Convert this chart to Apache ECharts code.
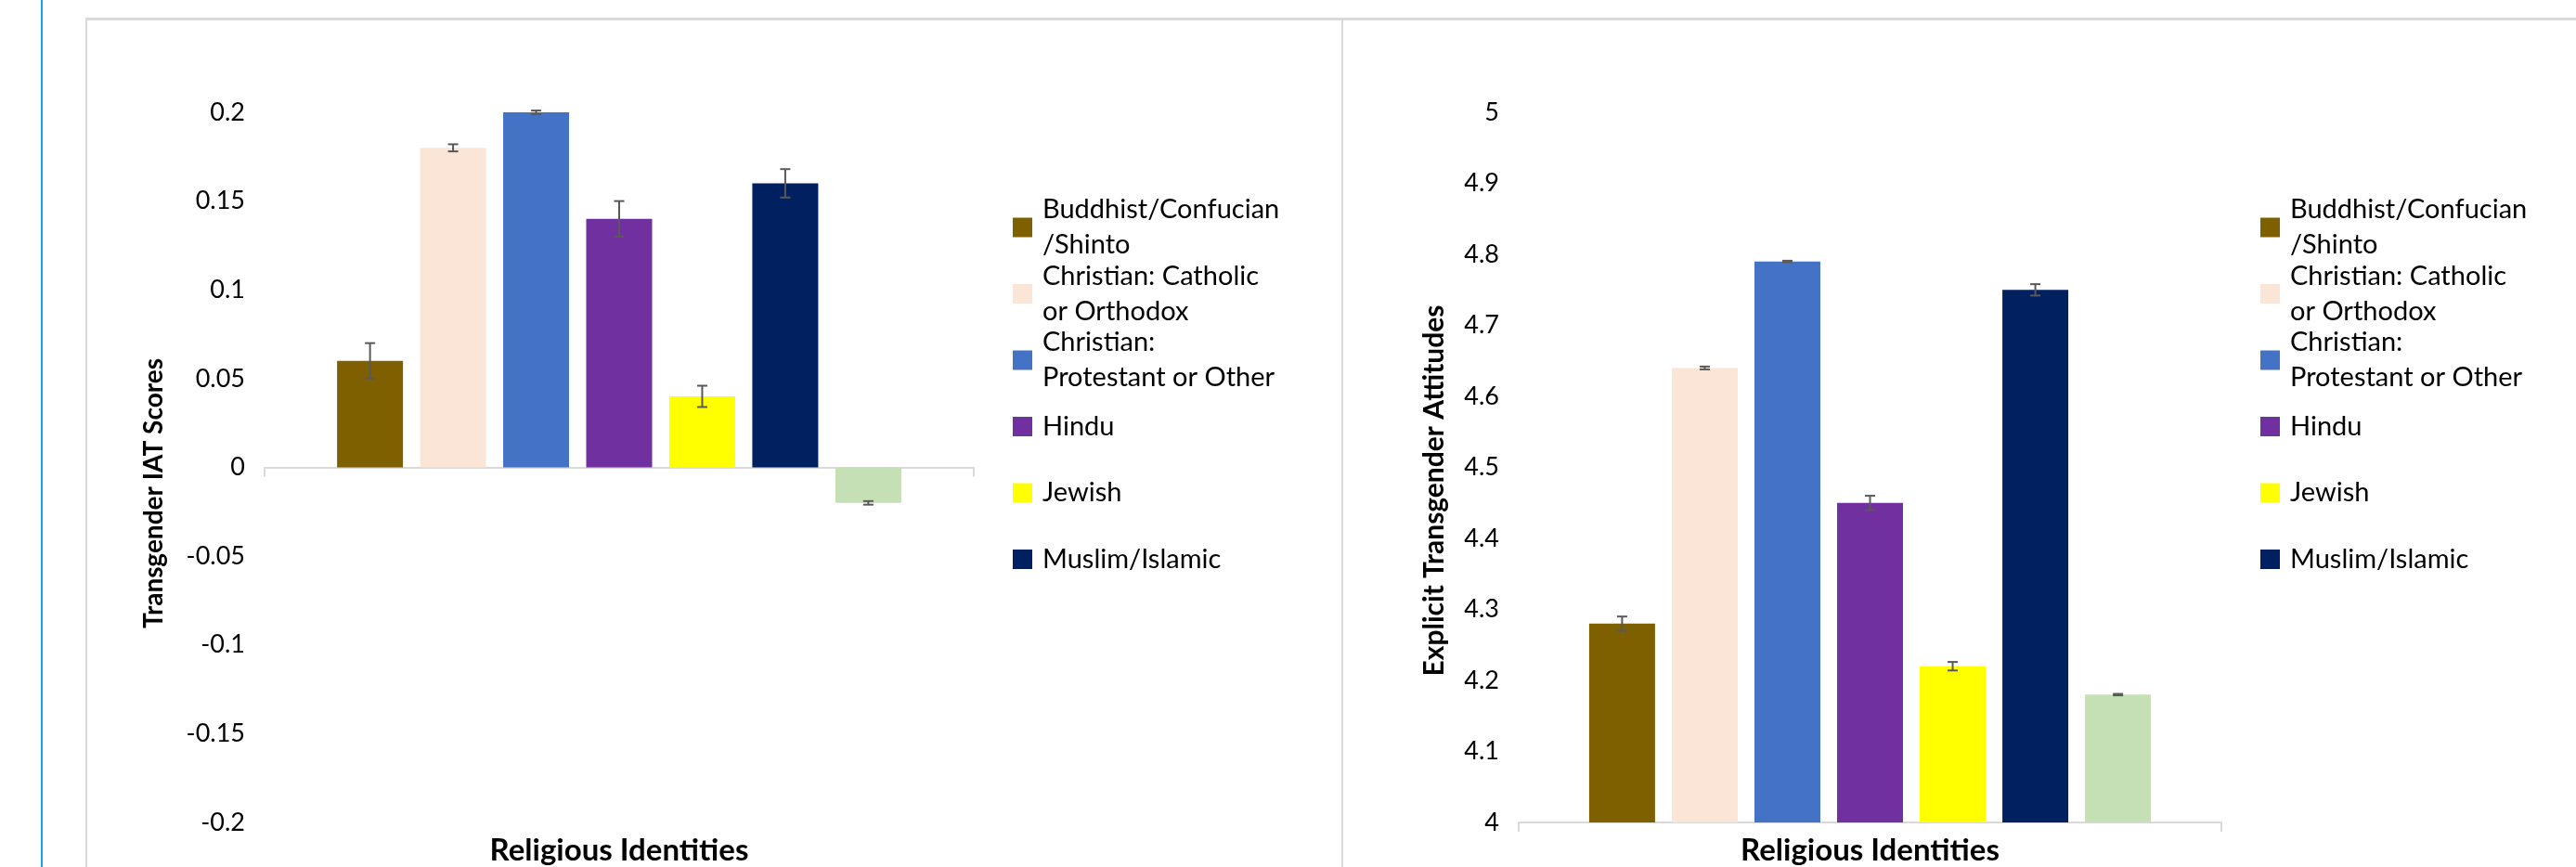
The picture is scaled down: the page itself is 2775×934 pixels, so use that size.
<!DOCTYPE html>
<html>
<head>
<meta charset="utf-8">
<script src="https://cdn.jsdelivr.net/npm/echarts@6/dist/echarts.min.js"></script>
<style>
  html, body { margin: 0; padding: 0; background: #ffffff; }
  #chart { width: 2775px; height: 934px; }
</style>
</head>
<body>
<div id="chart"></div>
<script>
// ---------- data ----------
const categories = [''];
const seriesNames = [
  'Buddhist/Confucian/Shinto',
  'Christian: Catholic or Orthodox',
  'Christian: Protestant or Other',
  'Hindu',
  'Jewish',
  'Muslim/Islamic',
  'Other'
];
const legendLabels = [
  'Buddhist/Confucian\n/Shinto',
  'Christian: Catholic\nor Orthodox',
  'Christian:\nProtestant or Other',
  'Hindu',
  'Jewish',
  'Muslim/Islamic'
];
const seriesColors = ['#7F6000', '#FBE5D6', '#4472C4', '#7030A0', '#FFFF00', '#002060', '#C5E0B4'];

const iatValues = [0.06, 0.18, 0.20, 0.14, 0.04, 0.16, -0.02];
const iatErrors = [0.010, 0.002, 0.001, 0.010, 0.006, 0.008, 0.001];

const explicitValues = [4.28, 4.64, 4.79, 4.45, 4.22, 4.75, 4.18];
const explicitErrors = [0.010, 0.002, 0.001, 0.010, 0.006, 0.008, 0.001];

const iatAxis = { min: -0.2, max: 0.2, interval: 0.05 };
const explicitAxis = { min: 4, max: 5, interval: 0.1 };

const leftYTitle = 'Transgender IAT Scores';
const rightYTitle = 'Explicit Transgender Attitudes';
const xTitle = 'Religious Identities';

// ---------- styling ----------
const FONT = 'Lato, Carlito, "Noto Sans", sans-serif';
const BAR_W = 71;
const GAP_L = 0.26;
const GAP_R = 0.254;
const AXIS_GRAY = '#d9d9d9';
const ERR_COLOR = '#595959';

function barSeries(values, axisIdx, gap) {
  return values.map((v, i) => ({
    name: seriesNames[i],
    type: 'bar',
    xAxisIndex: axisIdx,
    yAxisIndex: axisIdx,
    barWidth: BAR_W,
    barGap: (gap * 100) + '%',
    itemStyle: { color: seriesColors[i] },
    emphasis: { disabled: true },
    data: [v]
  }));
}

function errorSeries(values, errors, axisIdx, gap) {
  const n = values.length;
  return {
    type: 'custom',
    xAxisIndex: axisIdx,
    yAxisIndex: axisIdx,
    z: 10,
    silent: true,
    encode: { x: 0, y: [2, 3] },
    data: values.map((v, i) => [0, i, v - errors[i], v + errors[i]]),
    renderItem: function (params, api) {
      const idx = api.value(1);
      const pLo = api.coord([api.value(0), api.value(2)]);
      const pHi = api.coord([api.value(0), api.value(3)]);
      const x = pLo[0] + (idx - (n - 1) / 2) * BAR_W * (1 + gap);
      const cap = 5.5;
      const style = { stroke: ERR_COLOR, lineWidth: 2, fill: null };
      return {
        type: 'group',
        children: [
          { type: 'line', shape: { x1: x, y1: pLo[1], x2: x, y2: pHi[1] }, style: style },
          { type: 'line', shape: { x1: x - cap, y1: pLo[1], x2: x + cap, y2: pLo[1] }, style: style },
          { type: 'line', shape: { x1: x - cap, y1: pHi[1], x2: x + cap, y2: pHi[1] }, style: style }
        ]
      };
    }
  };
}

function legendFor(left) {
  return {
    orient: 'vertical',
    left: left,
    top: 188,
    padding: 0,
    itemWidth: 21,
    itemHeight: 21,
    itemGap: -42.5,
    icon: 'rect',
    selectedMode: false,
    formatter: function (name) { return legendLabels[seriesNames.indexOf(name)]; },
    textStyle: {
      fontFamily: FONT, fontSize: 29, color: '#000000', lineHeight: 38,
      backgroundColor: 'transparent'
    },
    data: legendLabels.map((lab, i) => ({
      name: seriesNames[i],
      textStyle: { padding: lab.indexOf('\n') >= 0 ? [38, 0, 0, 6] : [38, 0, 38, 6] }
    }))
  };
}

const xNameStyle = { fontFamily: FONT, fontWeight: 'bold', fontSize: 33, color: '#000000' };

function xAxisFor(gridIndex, withName) {
  const ax = {
    type: 'category',
    gridIndex: gridIndex,
    data: categories,
    boundaryGap: true,
    axisLine: { show: true, lineStyle: { color: AXIS_GRAY, width: 2 } },
    axisTick: { show: true, length: 10, alignWithLabel: false, lineStyle: { color: AXIS_GRAY, width: 2 } },
    axisLabel: { show: false },
    splitLine: { show: false },
    nameMoveOverlap: false
  };
  if (withName) {
    ax.name = xTitle;
    ax.nameLocation = 'middle';
    ax.nameGap = 14;
    ax.nameTextStyle = xNameStyle;
  }
  return ax;
}

// invisible bottom axis of the left grid that only carries the axis title
function xNameAxis(gridIndex) {
  return {
    type: 'category',
    gridIndex: gridIndex,
    data: categories,
    position: 'bottom',
    axisLine: { show: false, onZero: false },
    axisTick: { show: false },
    axisLabel: { show: false },
    splitLine: { show: false },
    nameMoveOverlap: false,
    name: xTitle,
    nameLocation: 'middle',
    nameGap: 14,
    nameTextStyle: xNameStyle
  };
}

function yAxisFor(gridIndex, ax, name, nameGap, fontSize, pad) {
  return {
    type: 'value',
    gridIndex: gridIndex,
    min: ax.min, max: ax.max, interval: ax.interval,
    axisLine: { show: false },
    axisTick: { show: false },
    splitLine: { show: false },
    axisLabel: { fontFamily: FONT, fontSize: 27, color: '#000000', margin: 21 },
    nameMoveOverlap: false,
    name: name,
    nameLocation: 'middle',
    nameGap: nameGap,
    nameTextStyle: { fontFamily: FONT, fontWeight: 'bold', fontSize: fontSize, color: '#000000', padding: pad }
  };
}

const chart = echarts.init(document.getElementById('chart'), null, { renderer: 'canvas' });
chart.setOption({
  backgroundColor: '#ffffff',
  animation: false,
  grid: [
    { left: 285, top: 121, width: 764, height: 765, containLabel: false, outerBoundsMode: 'none' },
    { left: 1636, top: 121, width: 757, height: 765, containLabel: false, outerBoundsMode: 'none' }
  ],
  xAxis: [xAxisFor(0, false), xAxisFor(1, true), xNameAxis(0)],
  yAxis: [
    yAxisFor(0, iatAxis, leftYTitle, 105, 28, [0, 56, 0, 0]),
    yAxisFor(1, explicitAxis, rightYTitle, 76, 30, [0, 50, 0, 0])
  ],
  legend: [legendFor(1091), legendFor(2435)],
  series: [
    ...barSeries(iatValues, 0, GAP_L),
    errorSeries(iatValues, iatErrors, 0, GAP_L),
    ...barSeries(explicitValues, 1, GAP_R),
    errorSeries(explicitValues, explicitErrors, 1, GAP_R)
  ],
  graphic: [
    { type: 'line', silent: true, shape: { x1: 45, y1: 0, x2: 45, y2: 934 }, style: { stroke: '#1BA1E2', lineWidth: 2 } },
    { type: 'line', silent: true, shape: { x1: 92, y1: 20.5, x2: 2775, y2: 20.5 }, style: { stroke: AXIS_GRAY, lineWidth: 3 } },
    { type: 'line', silent: true, shape: { x1: 93, y1: 20, x2: 93, y2: 934 }, style: { stroke: AXIS_GRAY, lineWidth: 2 } },
    { type: 'line', silent: true, shape: { x1: 1446, y1: 20, x2: 1446, y2: 934 }, style: { stroke: AXIS_GRAY, lineWidth: 2 } }
  ]
});
</script>
</body>
</html>
